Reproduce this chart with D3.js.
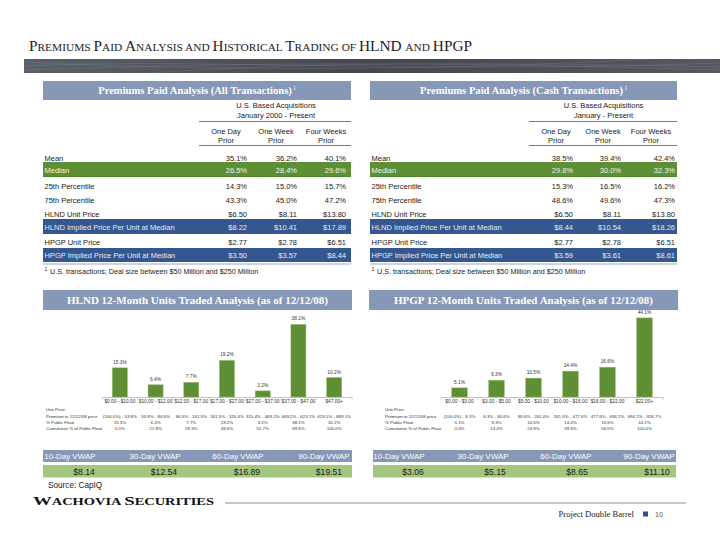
<!DOCTYPE html>
<html>
<head>
<meta charset="utf-8">
<script src="https://cdn.jsdelivr.net/npm/d3@7"></script>
<style>
  html, body { margin: 0; padding: 0; background: #ffffff; }
  svg { display: block; }
</style>
</head>
<body>
<svg id="slide" width="720" height="556"></svg>
<script>
// ---------------- DATA ----------------
const titleText = "Premiums Paid Analysis and Historical Trading of HLND and HPGP";

const tableRowLabels = ["Mean", "Median", "25th Percentile", "75th Percentile",
  "HLND Unit Price", "HLND Implied Price Per Unit at Median",
  "HPGP Unit Price", "HPGP Implied Price Per Unit at Median"];
const tableRowStyles = ["plain", "green", "plain", "plain", "plain", "blue", "plain", "blue"];
const periodLabels = [["One Day", "Prior"], ["One Week", "Prior"], ["Four Weeks", "Prior"]];

const allOneDay   = ["35.1%", "26.5%", "14.3%", "43.3%", "$6.50", "$8.22", "$2.77", "$3.50"];
const allOneWeek  = ["36.2%", "28.4%", "15.0%", "45.0%", "$8.11", "$10.41", "$2.78", "$3.57"];
const allFourWeek = ["40.1%", "29.6%", "15.7%", "47.2%", "$13.80", "$17.89", "$6.51", "$8.44"];

const cashOneDay   = ["38.5%", "29.8%", "15.3%", "48.6%", "$6.50", "$8.44", "$2.77", "$3.59"];
const cashOneWeek  = ["39.4%", "30.0%", "16.5%", "49.6%", "$8.11", "$10.54", "$2.78", "$3.61"];
const cashFourWeek = ["42.4%", "32.3%", "16.2%", "47.3%", "$13.80", "$18.26", "$6.51", "$8.61"];

const footnoteText = "U.S. transactions; Deal size between $50 Million and $250 Million";

const hlndCategories = ["$0.00 - $10.00", "$10.00 - $12.00", "$12.00 - $17.00", "$17.00 - $27.00",
  "$27.00 - $37.00", "$37.00 - $47.00", "$47.00+"];
const hlndPremium = ["(100.0%) - 53.8%", "53.8% - 84.6%", "84.6% - 161.5%", "161.5% - 315.4%",
  "315.4% - 469.2%", "469.2% - 623.1%", "623.1% - 889.1%"];
const hlndFloat = [15.3, 6.4, 7.7, 19.2, 3.2, 38.1, 10.2];
const hlndCumulative = [0.0, 21.8, 29.3, 48.6, 51.7, 89.8, 100.0];

const hpgpCategories = ["$0.00 - $3.00", "$3.00 - $5.00", "$5.00 - $10.00", "$10.00 - $16.00",
  "$16.00 - $22.00", "$22.00+"];
const hpgpPremium = ["(100.0%) - 8.3%", "8.3% - 80.6%", "80.6% - 261.0%", "261.0% - 477.6%",
  "477.6% - 694.2%", "694.2% - 926.7%"];
const hpgpFloat = [5.1, 9.3, 10.5, 14.4, 16.6, 44.1];
const hpgpCumulative = [0.0, 14.4, 24.9, 39.3, 56.0, 100.0];

const vwapLabels = ["10-Day VWAP", "30-Day VWAP", "60-Day VWAP", "90-Day VWAP"];
const hlndVwap = [8.14, 12.54, 16.89, 19.51];
const hpgpVwap = [3.06, 5.15, 8.65, 11.10];

// ---------------- STYLE ----------------
const C = {
  header: "#8797b7",
  green: "#5f8f35",
  bar: "#5f8f35",
  lightGreen: "#a4c77f",
  blue: "#34578f",
  text: "#1a1a1a",
  title: "#1c1c28"
};
const SANS = "'Liberation Sans', Arial, sans-serif";
const SERIF = "'Liberation Serif', 'Times New Roman', serif";

const svg = d3.select("#slide");
const defs = svg.append("defs");

// ---------------- TITLE ----------------
function smallCapsText(sel, text, x, y, big, small, len, weight) {
  const t = sel.append("text").attr("x", x).attr("y", y)
    .attr("font-family", SERIF).attr("font-weight", weight || "normal")
    .attr("fill", C.title);
  const words = text.split(" ");
  words.forEach((w, i) => {
    const sep = i < words.length - 1 ? " " : "";
    if (w === w.toUpperCase()) {
      t.append("tspan").attr("font-size", big).text(w + sep);
    } else if (w === w.toLowerCase()) {
      t.append("tspan").attr("font-size", small).text(w.toUpperCase() + sep);
    } else {
      t.append("tspan").attr("font-size", big).text(w[0]);
      t.append("tspan").attr("font-size", small).text(w.slice(1).toUpperCase() + sep);
    }
  });
  if (len) t.attr("textLength", len).attr("lengthAdjust", "spacingAndGlyphs");
  return t;
}
smallCapsText(svg, titleText, 29, 51, 14, 10.4, 443, "normal");

// Banner
const bg = defs.append("linearGradient").attr("id", "bannerGrad").attr("x1", "0").attr("x2", "1");
bg.append("stop").attr("offset", "0").attr("stop-color", "#5b5f67");
bg.append("stop").attr("offset", "0.5").attr("stop-color", "#44474e");
bg.append("stop").attr("offset", "1").attr("stop-color", "#55585f");
svg.append("rect").attr("x", 24).attr("y", 59).attr("width", 696).attr("height", 14).attr("fill", "url(#bannerGrad)");
const curves = [
  "M24,66 C200,58 400,74 720,63",
  "M24,70 C220,64 380,60 720,70",
  "M150,73 C300,62 500,62 720,67",
  "M24,62 C180,70 420,72 650,59"
];
svg.append("g").selectAll("path").data(curves).join("path")
  .attr("d", d => d).attr("fill", "none").attr("stroke", "#9a9da4")
  .attr("stroke-opacity", 0.35).attr("stroke-width", 0.6);

// ---------------- HEADER BAR ----------------
function headerBar(x, y, w, h, label, sup, fontSize) {
  svg.append("rect").attr("x", x).attr("y", y).attr("width", w).attr("height", h).attr("fill", C.header);
  const cx = x + w / 2 - (sup ? 2 : 0);
  const t = svg.append("text").attr("x", cx).attr("y", y + h / 2 + 3.8)
    .attr("text-anchor", "middle").attr("font-family", SERIF).attr("font-weight", "bold")
    .attr("font-size", fontSize).attr("fill", "#ffffff").text(label);
  if (sup) {
    const tw = t.node().getComputedTextLength();
    svg.append("text").attr("x", cx + tw / 2 + 1.5).attr("y", y + h / 2 - 0.5)
      .attr("font-family", SERIF).attr("font-size", 5.5).attr("fill", "#ffffff").text(sup);
  }
}

// ---------------- PREMIUM TABLES ----------------
const rowCenters = [158, 170, 186, 200, 214, 227, 242, 255];
const rowBands = { 5: [219, 234], 7: [248, 262] };

function premiumTable(x0, x1, colRight, colCenter, subTitle, cols, headerLabel) {
  headerBar(x0, 81, x1 - x0, 19, headerLabel, "1", 10.6);
  const g = svg.append("g").attr("font-family", SANS).attr("font-size", 7.5).attr("fill", C.text);
  const midX = (colCenter[0] + colCenter[2]) / 2;
  g.append("text").attr("x", midX).attr("y", 108).attr("text-anchor", "middle").text("U.S. Based Acquisitions");
  g.append("text").attr("x", midX).attr("y", 117.5).attr("text-anchor", "middle").text(subTitle);
  const lineX0 = colCenter[0] - 27;
  g.append("line").attr("x1", lineX0).attr("x2", x1).attr("y1", 121.5).attr("y2", 121.5)
    .attr("stroke", "#555").attr("stroke-width", 0.8);
  periodLabels.forEach((p, i) => {
    g.append("text").attr("x", colCenter[i]).attr("y", 133.5).attr("text-anchor", "middle").text(p[0]);
    g.append("text").attr("x", colCenter[i]).attr("y", 143).attr("text-anchor", "middle").text(p[1]);
  });
  g.append("line").attr("x1", lineX0).attr("x2", x1).attr("y1", 145.5).attr("y2", 145.5)
    .attr("stroke", "#555").attr("stroke-width", 0.8);

  tableRowLabels.forEach((lab, i) => {
    const style = tableRowStyles[i];
    let fill = C.text;
    if (style === "green") {
      g.append("rect").attr("x", x0).attr("y", 162).attr("width", x1 - x0).attr("height", 15).attr("fill", C.green);
      g.append("line").attr("x1", x0).attr("x2", x1).attr("y1", 176.5).attr("y2", 176.5)
        .attr("stroke", "#4f8a2a").attr("stroke-width", 1);
      fill = "#eef4e6";
    } else if (style === "blue") {
      const b = rowBands[i];
      g.append("rect").attr("x", x0).attr("y", b[0]).attr("width", x1 - x0).attr("height", b[1] - b[0]).attr("fill", C.blue);
      fill = "#e6ebf4";
    }
    const yb = rowCenters[i] + 2.7;
    g.append("text").attr("x", x0 + 1.5).attr("y", yb).attr("fill", fill).text(lab);
    cols.forEach((col, j) => {
      g.append("text").attr("x", colRight[j]).attr("y", yb).attr("text-anchor", "end").attr("fill", fill).text(col[i]);
    });
  });
  g.append("line").attr("x1", x0).attr("x2", x1).attr("y1", 264).attr("y2", 264)
    .attr("stroke", "#9aa7c4").attr("stroke-width", 1);
  g.append("text").attr("x", x0 + 1.5).attr("y", 271).attr("font-size", 5).text("1");
  g.append("text").attr("x", x0 + 7).attr("y", 274).attr("font-size", 7.2).text(footnoteText);
}

premiumTable(43, 351, [247, 297, 346], [226, 276, 326], "January 2000 - Present",
  [allOneDay, allOneWeek, allFourWeek], "Premiums Paid Analysis (All Transactions)");
premiumTable(370, 677, [573, 621, 675], [556, 603, 651], "January  - Present",
  [cashOneDay, cashOneWeek, cashFourWeek], "Premiums Paid Analysis (Cash Transactions)");

// ---------------- BAR CHARTS ----------------
function barChart(opts) {
  headerBar(opts.hx0, 290, opts.hx1 - opts.hx0, 20, opts.title, null, 11);
  const base = 397;
  const x = d3.scaleBand().domain(opts.categories).range([opts.ax0, opts.ax1])
    .paddingInner(0.58).paddingOuter(0.29);
  const y = d3.scaleLinear().domain([0, opts.yMax]).range([base, 317]);
  const g = svg.append("g");

  g.selectAll("rect.bar").data(opts.values).join("rect").attr("class", "bar")
    .attr("x", (d, i) => x(opts.categories[i]))
    .attr("width", x.bandwidth())
    .attr("y", d => y(d))
    .attr("height", d => base - y(d))
    .attr("fill", C.bar)
    .attr("stroke", "#8fb56a").attr("stroke-width", 0.5);

  g.selectAll("text.val").data(opts.values).join("text").attr("class", "val")
    .attr("x", (d, i) => x(opts.categories[i]) + x.bandwidth() / 2)
    .attr("y", d => y(d) - 4)
    .attr("text-anchor", "middle").attr("font-family", SANS).attr("font-size", 4.8).attr("fill", "#333")
    .text(d => d3.format(".1f")(d) + "%");

  // axis
  const axis = d3.axisBottom(x).tickSize(0).tickFormat("");
  const ag = g.append("g").attr("transform", `translate(0,${base})`).call(axis);
  ag.select(".domain").attr("stroke", "#b5b5b5").attr("stroke-width", 0.8);
  const step = x.step();
  const bounds = d3.range(opts.categories.length + 1).map(i => opts.ax0 + i * step);
  ag.selectAll("line.bnd").data(bounds).join("line").attr("class", "bnd")
    .attr("x1", d => d).attr("x2", d => d).attr("y1", 0).attr("y2", 3)
    .attr("stroke", "#b5b5b5").attr("stroke-width", 0.6);

  const rowsG = g.append("g").attr("font-family", SANS).attr("font-size", 4.4).attr("fill", "#333");
  opts.categories.forEach((c, i) => {
    const cx = x(c) + x.bandwidth() / 2;
    rowsG.append("text").attr("x", cx).attr("y", 403).attr("text-anchor", "middle").attr("font-size", 4.8).text(c);
    rowsG.append("text").attr("x", cx).attr("y", 417.5).attr("text-anchor", "middle").text(opts.premium[i]);
    rowsG.append("text").attr("x", cx).attr("y", 423.5).attr("text-anchor", "middle").text(d3.format(".1f")(opts.values[i]) + "%");
    rowsG.append("text").attr("x", cx).attr("y", 429.5).attr("text-anchor", "middle").text(d3.format(".1f")(opts.cumulative[i]) + "%");
  });
  const rl = ["Unit Price", "Premium to 12/12/08 price", "% Public Float", "Cumulative % of Public Float"];
  [410.5, 417.5, 423.5, 429.5].forEach((yy, i) => {
    rowsG.append("text").attr("x", opts.labelX).attr("y", yy).text(rl[i]);
  });
}

barChart({
  hx0: 43, hx1: 352, title: "HLND 12-Month Units Traded Analysis (as of 12/12/08)",
  ax0: 102, ax1: 352, categories: hlndCategories, values: hlndFloat, premium: hlndPremium,
  cumulative: hlndCumulative, yMax: 42, labelX: 46
});
barChart({
  hx0: 369, hx1: 678, title: "HPGP 12-Month Units Traded Analysis (as of 12/12/08)",
  ax0: 441, ax1: 663, categories: hpgpCategories, values: hpgpFloat, premium: hpgpPremium,
  cumulative: hpgpCumulative, yMax: 44.6, labelX: 385
});

// ---------------- VWAP ROWS ----------------
function vwapBlock(x0, x1, values, labelCenters, valueCenters) {
  const g = svg.append("g").attr("font-family", SANS);
  g.append("rect").attr("x", x0).attr("y", 450).attr("width", x1 - x0).attr("height", 12).attr("fill", C.header);
  g.append("rect").attr("x", x0).attr("y", 465).attr("width", x1 - x0).attr("height", 12.5).attr("fill", C.lightGreen);
  vwapLabels.forEach((l, i) => {
    g.append("text").attr("x", labelCenters[i]).attr("y", 459.2).attr("text-anchor", "middle")
      .attr("font-size", 8).attr("fill", "#ffffff").text(l);
  });
  values.forEach((v, i) => {
    g.append("text").attr("x", valueCenters[i]).attr("y", 474.5).attr("text-anchor", "middle")
      .attr("font-size", 8.6).attr("fill", "#1a1a1a").text(d3.format("$.2f")(v));
  });
}
vwapBlock(43, 352, hlndVwap, [70, 155, 238, 324], [84, 164, 247, 329]);
vwapBlock(373, 676, hpgpVwap, [399, 483, 566, 649], [413, 495, 577, 657]);

svg.append("text").attr("x", 48).attr("y", 488).attr("font-family", SANS).attr("font-size", 8.2)
  .attr("fill", "#1a1a1a").text("Source: CapIQ");

// ---------------- FOOTER ----------------
const wach = svg.append("text").attr("x", 33).attr("y", 505).attr("font-family", SERIF)
  .attr("font-weight", "bold").attr("fill", "#111");
wach.append("tspan").attr("font-size", 12.5).text("W");
wach.append("tspan").attr("font-size", 9.6).text("ACHOVIA ");
wach.append("tspan").attr("font-size", 12.5).text("S");
wach.append("tspan").attr("font-size", 9.6).text("ECURITIES");
wach.attr("textLength", 181).attr("lengthAdjust", "spacingAndGlyphs");

svg.append("line").attr("x1", 225).attr("x2", 686).attr("y1", 503).attr("y2", 503)
  .attr("stroke", "#8a8a8a").attr("stroke-width", 1);
svg.append("text").attr("x", 634).attr("y", 517).attr("text-anchor", "end").attr("font-family", SERIF)
  .attr("font-size", 8.6).attr("fill", "#222").text("Project Double Barrel");
svg.append("rect").attr("x", 643).attr("y", 511.5).attr("width", 5).attr("height", 5).attr("fill", "#2f4f8f");
svg.append("text").attr("x", 655).attr("y", 517).attr("font-family", SANS).attr("font-size", 7)
  .attr("fill", "#555").text("10");
</script>
</body>
</html>
